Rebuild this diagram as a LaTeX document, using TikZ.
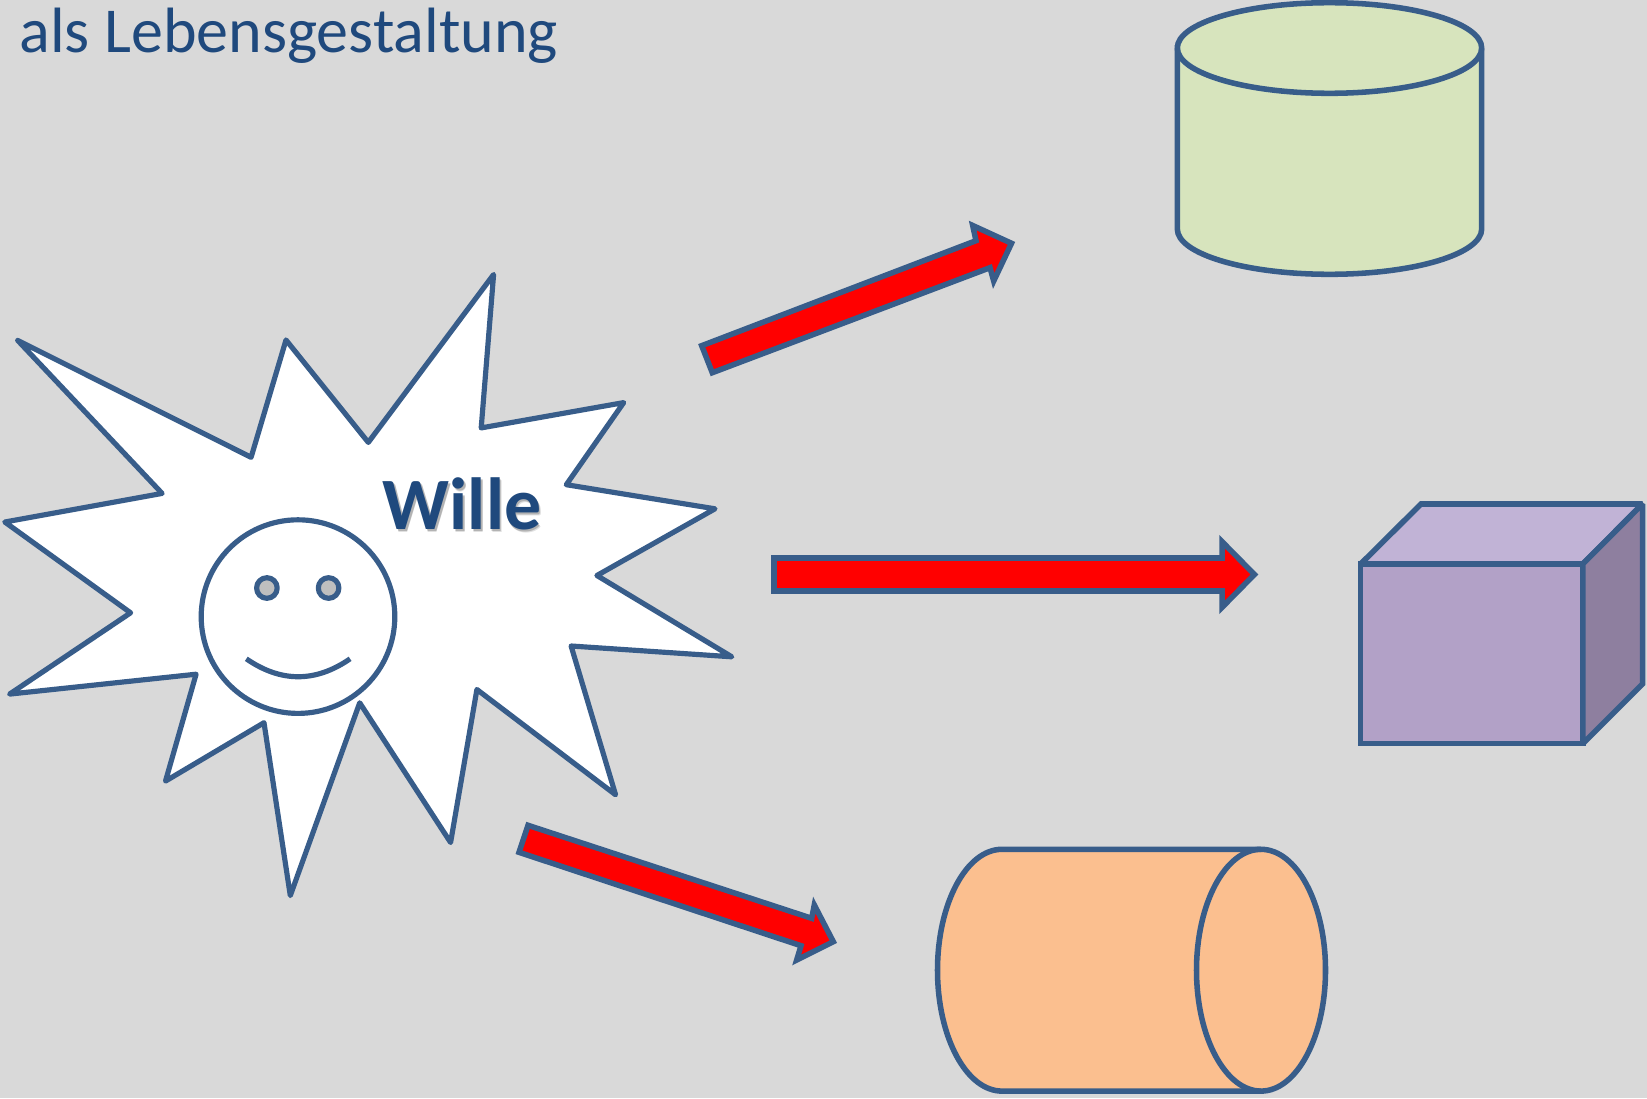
\documentclass[tikz,border=0pt]{standalone}
\usepackage{fontspec}
\setmainfont{Carlito}
\definecolor{bgc}{HTML}{D9D9D9}
\definecolor{linec}{HTML}{385D8A}
\definecolor{textc}{HTML}{1F497D}
\definecolor{greenc}{HTML}{D7E4BD}
\definecolor{orangec}{HTML}{FBBF8F}
\definecolor{cubefront}{HTML}{B2A1C7}
\definecolor{cubetop}{HTML}{C1B3D6}
\definecolor{cubeside}{HTML}{8E7F9F}
\definecolor{eyec}{HTML}{BFBFBF}
\tikzset{
  outl/.style={draw=linec,line width=3pt,line join=miter,miter limit=10},
  cubel/.style={outl,miter limit=1.5},
  starl/.style={draw=linec,line width=2.8pt,line join=round,fill=white},
  redarrow/.style={outl,fill=red},
  titletext/.style={inner sep=0pt,anchor=base west,text=textc,font=\fontsize{34.7}{40}\selectfont},
  willetext/.style={inner sep=0pt,anchor=base west,font=\bfseries\fontsize{40}{48}\selectfont}
}
\begin{document}
\begin{tikzpicture}[x=0.01904cm,y=-0.01904cm]
\path[use as bounding box,fill=bgc] (0,0) rectangle (1647,1098);
\node[titletext] (title) at (19,52.7) {als Lebensgestaltung};
% top cylinder
\path[outl,fill=greenc] (1177.3,48) -- (1177.3,229) arc[start angle=180,end angle=0,x radius=152.2,y radius=45.3] -- (1481.7,48) arc[start angle=0,end angle=-180,x radius=152.2,y radius=45.3] -- cycle;
\path[outl] (1177.3,48) arc[start angle=180,end angle=0,x radius=152.2,y radius=45.3];
% cube
\path[cubel,fill=cubefront] (1360.6,564) rectangle (1582.8,743.7);
\path[cubel,fill=cubetop] (1360.6,564) -- (1421,504) -- (1642.5,504) -- (1582.8,564) -- cycle;
\path[cubel,fill=cubeside] (1582.8,564) -- (1642.5,504) -- (1642.5,684) -- (1582.8,743.7) -- cycle;
% horizontal cylinder
\path[outl,fill=orangec] (1002,849.3) -- (1261,849.3) arc[start angle=-90,end angle=90,x radius=64.5,y radius=120.9] -- (1002,1091.1) arc[start angle=90,end angle=270,x radius=64.5,y radius=120.9] -- cycle;
\path[outl] (1261,849.3) arc[start angle=-90,end angle=-270,x radius=64.5,y radius=120.9];
% star
\path[starl] (493.6,274.5) -- (481.2,427.9) -- (623.7,402.6) -- (566.3,484.7) -- (715,508.8) -- (596.9,575.5) -- (731.8,656.8) -- (571.1,646) -- (615.6,794.8) -- (476.9,689.5) -- (450.6,842.5) -- (359.7,702.8) -- (290.3,895.6) -- (264,722.7) -- (165.5,781.1) -- (196.1,674.2) -- (9.6,694.1) -- (130.6,612.8) -- (4.8,522) -- (162.1,493.4) -- (17.7,340.4) -- (251.1,457.3) -- (286,340) -- (368.3,442.4) -- cycle;
% face
\path[starl,fill=none] (298,616.6) circle[radius=96.8];
\path[starl,fill=eyec] (266.9,588) circle[radius=10.3];
\path[starl,fill=eyec] (328.6,588) circle[radius=10.3];
\path[starl,fill=none,line cap=butt] (246.3,658.8) .. controls (280.9,682.7) and (315.5,682.7) .. (350.1,658.8);
% text
\node[willetext,text=black,opacity=0.12] (willeshadowa) at (384.5,532.5) {Wille};
\node[willetext,text=black,opacity=0.2] (willeshadowb) at (384,531.5) {Wille};
\node[willetext,text=textc] (wille) at (382.5,529.5) {Wille};
% arrows
\path[redarrow] (701.7,345.7) -- (712.3,372.7) -- (990,267.7) -- (993.7,281) -- (1011.5,243.3) -- (972.7,225.5) -- (976,240.7) -- cycle;
\path[redarrow] (774,558) -- (774,591) -- (1222.1,591) -- (1222.1,607.3) -- (1254.4,574.5) -- (1222.1,541.7) -- (1222.1,558) -- cycle;
\path[redarrow] (528,825.3) -- (519,852.3) -- (801,945.7) -- (796.7,960) -- (833.3,941.7) -- (814.3,905) -- (811.7,918.3) -- cycle;
\end{tikzpicture}
\end{document}
